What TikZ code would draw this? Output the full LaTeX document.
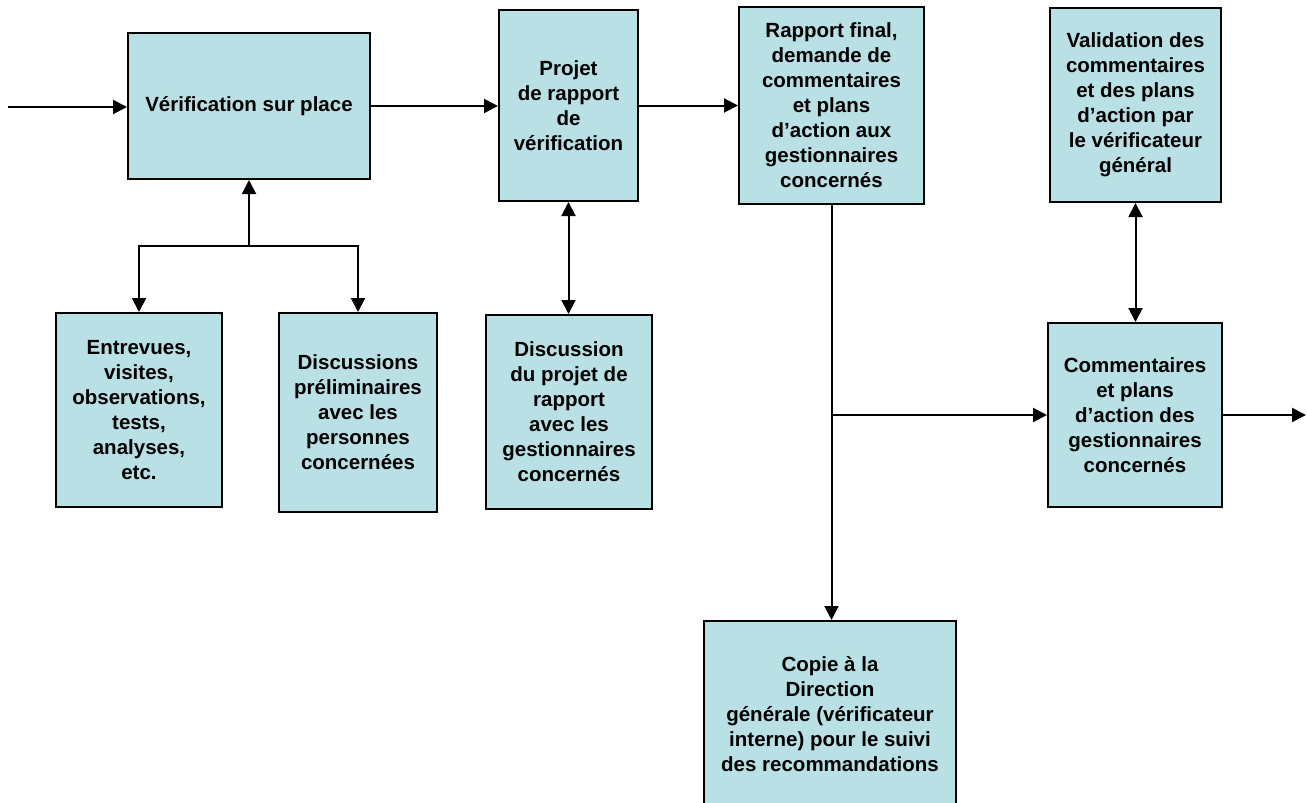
\documentclass[tikz,border=0pt]{standalone}
\usepackage{fontspec}
\setmainfont{Liberation Sans}
\usetikzlibrary{arrows.meta}
\definecolor{boxfill}{RGB}{185,224,228}
\tikzset{
  box/.style={draw=black, line width=2pt, fill=boxfill, align=center, inner sep=0pt,
    font=\fontsize{20.5}{25}\selectfont\bfseries},
  arr/.style={line width=2pt, -{Triangle[length=14pt,width=14pt]}},
  arrtwo/.style={line width=2pt, {Triangle[length=14pt,width=14pt]}-{Triangle[length=14pt,width=14pt]}},
  conn/.style={line width=2pt}
}
\newcommand{\bx}[6]{%
  \node[box, minimum width={(#4)-(#2)}, minimum height={(#5)-(#3)}] (#1) at ({((#2)+(#4))/2},{((#3)+(#5))/2}) {#6};}
\begin{document}
\begin{tikzpicture}[x=1pt,y=-1pt]
\useasboundingbox (0,0) rectangle (1307,803);
\bx{b1}{128}{33}{370}{179}{Vérification sur place}
\bx{b2}{499}{10}{638}{201}{Projet\\de rapport\\de\\vérification}
\bx{b3}{739}{7}{924}{204}{Rapport final,\\demande de\\commentaires\\et plans\\d’action aux\\gestionnaires\\concernés}
\bx{b4}{1050}{8}{1221}{202}{Validation des\\commentaires\\et des plans\\d’action par\\le vérificateur\\général}
\bx{b5}{56}{313}{222}{507}{Entrevues,\\visites,\\observations,\\tests,\\analyses,\\etc.}
\bx{b6}{279}{313}{437}{512}{Discussions\\préliminaires\\avec les\\personnes\\concernées}
\bx{b7}{486}{315}{652}{509}{Discussion\\du projet de\\rapport\\avec les\\gestionnaires\\concernés}
\bx{b8}{1048}{323}{1222}{507}{Commentaires\\et plans\\d’action des\\gestionnaires\\concernés}
\bx{b9}{704}{621}{956}{808}{Copie à la\\Direction\\générale (vérificateur\\interne) pour le suivi\\des recommandations}

\coordinate (in) at (8,107);
\draw[arr] (in) -- (in -| b1.west);
\draw[arr] (b1.east) -- (b1.east -| b2.west);
\draw[arr] (b2.east) -- (b2.east -| b3.west);

\coordinate (j1) at (249,246);
\draw[arr] (j1) -- (j1 |- b1.south);
\draw[arr] (j1) -| (b5.north);
\draw[arr] (j1) -| (b6.north);

\draw[arrtwo] (b2.south) -- (b2.south |- b7.north);

\draw[arr] (b3.south) -- (b3.south |- b9.north);
\coordinate (j2) at (b3.south |- b8.west);
\draw[arr] (j2) -- (b8.west);
\coordinate (out) at (1306,415);
\draw[arr] (b8.east) -- (b8.east -| out);

\draw[arrtwo] (b4.south) -- (b4.south |- b8.north);
\end{tikzpicture}
\end{document}
